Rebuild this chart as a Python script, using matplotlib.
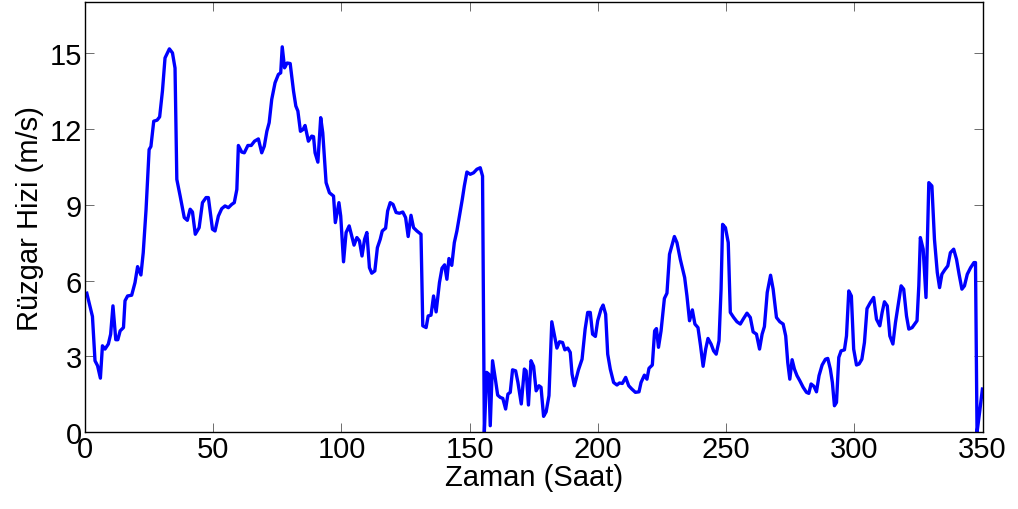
import matplotlib
matplotlib.use("Agg")
import matplotlib.pyplot as plt

# hourly wind speed trace
hours = [
    0.7, 2.9, 3.9, 4.9, 6.0, 6.8, 7.8, 9.1, 10.0, 10.9, 12.0, 12.8, 13.7, 15.0,
    15.6, 16.6, 18.2, 19.5, 20.5, 21.8, 22.7, 23.8, 25.0, 25.7, 26.8, 28.1,
    29.1, 30.2, 31.2, 32.9, 34.1, 35.1, 35.8, 37.1, 38.7, 39.9, 41.0, 41.9,
    43.0, 44.5, 45.8, 47.2, 48.1, 49.7, 50.7, 52.0, 53.3, 54.6, 55.9, 57.2,
    58.2, 59.2, 59.8, 61.1, 62.1, 63.5, 64.8, 66.1, 67.6, 68.9, 69.9, 70.9,
    71.8, 72.8, 74.1, 75.4, 76.3, 76.9, 77.8, 78.8, 80.0, 81.3, 82.2, 83.0,
    84.0, 85.0, 85.8, 87.1, 88.4, 89.1, 89.7, 90.8, 91.9, 92.7, 94.0, 95.3,
    96.9, 97.6, 99.0, 99.7, 100.8, 101.8, 103.0, 104.0, 104.9, 106.0, 107.0,
    108.0, 109.0, 109.9, 110.9, 111.8, 113.0, 114.0, 115.1, 115.9, 117.2,
    118.0, 119.0, 120.1, 121.3, 122.6, 123.9, 125.0, 126.0, 127.1, 128.1,
    129.4, 131.0, 131.7, 133.0, 133.8, 134.9, 135.9, 136.9, 138.2, 139.2,
    140.2, 141.1, 141.9, 143.0, 144.0, 145.0, 146.0, 147.1, 147.9, 148.9,
    150.2, 151.5, 152.8, 154.1, 155.0, 155.7, 156.6, 157.4, 158.0, 158.9,
    160.0, 160.9, 161.9, 162.9, 164.0, 164.9, 165.8, 166.7, 167.9, 168.8,
    170.1, 171.3, 172.0, 172.9, 173.9, 174.9, 175.9, 177.0, 177.8, 178.8,
    179.8, 180.9, 182.0, 183.1, 184.0, 185.0, 186.2, 187.1, 188.2, 189.2,
    189.9, 190.8, 192.4, 193.8, 195.0, 196.0, 197.0, 197.9, 199.0, 199.9,
    201.2, 202.0, 203.0, 203.8, 204.8, 206.1, 207.4, 208.4, 209.5, 210.8,
    212.0, 213.2, 214.6, 216.0, 216.8, 218.1, 219.1, 219.9, 221.2, 222.1,
    222.8, 223.6, 224.6, 225.9, 226.9, 227.9, 229.8, 230.8, 232.1, 233.8,
    234.7, 235.7, 236.8, 237.8, 239.0, 240.0, 241.0, 242.0, 242.9, 244.1,
    245.1, 246.1, 247.2, 248.0, 248.6, 249.7, 250.8, 251.6, 252.9, 254.2,
    255.5, 256.6, 258.1, 259.4, 260.5, 261.8, 263.0, 264.0, 264.9, 266.0,
    267.3, 268.3, 269.6, 270.9, 272.2, 273.2, 274.0, 274.8, 275.7, 276.6,
    277.6, 278.7, 280.0, 281.3, 282.2, 283.1, 284.2, 285.2, 286.2, 287.4,
    288.7, 289.6, 290.6, 291.4, 292.2, 293.0, 293.9, 294.8, 296.1, 296.9,
    297.8, 298.8, 299.7, 300.8, 301.8, 302.9, 303.9, 304.9, 306.2, 307.5,
    308.6, 309.9, 310.8, 311.7, 312.8, 313.8, 315.0, 316.0, 317.2, 318.2,
    319.2, 320.3, 321.2, 322.5, 323.5, 324.4, 325.1, 325.7, 326.8, 327.9,
    329.0, 330.2, 331.2, 332.3, 333.2, 334.1, 335.2, 336.4, 337.4, 338.7,
    339.8, 340.8, 341.9, 342.9, 344.0, 345.3, 346.6, 347.2, 347.8, 348.8,
    349.9,
]
speed = [
    5.50, 4.58, 2.83, 2.63, 2.14, 3.42, 3.29, 3.49, 3.88, 5.00, 3.66, 3.66,
    4.01, 4.14, 5.20, 5.39, 5.42, 5.92, 6.55, 6.22, 7.10, 8.80, 11.18, 11.30,
    12.30, 12.34, 12.47, 13.50, 14.80, 15.16, 15.00, 14.40, 10.00, 9.34, 8.49,
    8.38, 8.82, 8.71, 7.83, 8.09, 9.08, 9.28, 9.28, 8.03, 7.96, 8.55, 8.84,
    8.95, 8.88, 9.01, 9.08, 9.60, 11.34, 11.08, 11.05, 11.34, 11.34, 11.51,
    11.60, 11.05, 11.31, 11.90, 12.24, 13.16, 13.82, 14.15, 14.21, 15.24,
    14.41, 14.60, 14.58, 13.49, 12.90, 12.70, 11.90, 11.97, 12.13, 11.51,
    11.71, 11.69, 11.05, 10.68, 12.44, 11.84, 9.87, 9.47, 9.34, 8.29, 9.08,
    8.55, 6.74, 7.90, 8.16, 7.76, 7.40, 7.70, 7.57, 6.97, 7.63, 7.90, 6.51,
    6.29, 6.38, 7.30, 7.63, 7.96, 8.07, 8.75, 9.08, 9.01, 8.69, 8.66, 8.71,
    8.49, 7.74, 8.58, 8.09, 7.96, 7.83, 4.21, 4.14, 4.60, 4.63, 5.39, 4.76,
    5.92, 6.49, 6.62, 6.05, 6.87, 6.60, 7.50, 7.96, 8.55, 9.21, 9.74, 10.29,
    10.20, 10.26, 10.40, 10.46, 10.13, 0.00, 2.37, 2.30, 0.26, 2.83, 2.10,
    1.47, 1.38, 1.34, 0.92, 1.51, 1.58, 2.47, 2.43, 1.97, 1.12, 2.50, 2.43,
    1.08, 2.83, 2.61, 1.64, 1.84, 1.78, 0.63, 0.81, 1.45, 4.37, 3.81, 3.33,
    3.58, 3.55, 3.26, 3.33, 3.16, 2.30, 1.84, 2.47, 2.89, 4.08, 4.74, 4.74,
    3.88, 3.79, 4.41, 4.87, 5.03, 4.67, 3.09, 2.50, 1.97, 1.87, 1.95, 1.93,
    2.17, 1.84, 1.71, 1.58, 1.60, 1.97, 2.26, 2.10, 2.53, 2.66, 4.01, 4.10,
    3.36, 4.01, 5.29, 5.50, 7.04, 7.74, 7.50, 6.84, 6.12, 5.39, 4.41, 4.84,
    4.28, 4.14, 3.42, 2.61, 3.29, 3.71, 3.49, 3.22, 3.09, 3.62, 5.66, 8.22,
    8.09, 7.50, 4.74, 4.54, 4.37, 4.28, 4.47, 4.71, 4.54, 3.97, 3.88, 3.29,
    3.88, 4.18, 5.53, 6.21, 5.66, 4.54, 4.37, 4.28, 3.81, 2.76, 2.10, 2.87,
    2.50, 2.24, 2.04, 1.78, 1.58, 1.54, 1.91, 1.82, 1.60, 2.24, 2.66, 2.89,
    2.92, 2.50, 1.97, 1.05, 1.18, 2.96, 3.22, 3.26, 3.81, 5.59, 5.39, 3.29,
    2.66, 2.70, 2.89, 3.55, 4.89, 5.13, 5.33, 4.47, 4.21, 4.74, 5.16, 5.00,
    3.81, 3.49, 4.34, 5.13, 5.79, 5.66, 4.60, 4.08, 4.14, 4.28, 4.41, 5.79,
    7.70, 7.24, 5.33, 9.87, 9.74, 7.63, 6.32, 5.72, 6.25, 6.42, 6.58, 7.10,
    7.24, 6.84, 6.25, 5.66, 5.79, 6.25, 6.51, 6.71, 6.71, 0.00, 0.79, 1.71,
]

x_ticks = [0, 50, 100, 150, 200, 250, 300, 350]
y_ticks = [0, 3, 6, 9, 12, 15]

plt.rcParams['font.family'] = ['Liberation Sans', 'DejaVu Sans']

fig = plt.figure(figsize=(10.18, 5.10), dpi=100)
ax = fig.add_axes([0.0835, 0.1504, 0.8818, 0.8431])

ax.plot(hours, speed, color='#0000ff', linewidth=2.4, solid_joinstyle='round')

ax.set_xlim(0, 350)
ax.set_ylim(0, 17)
ax.set_xticks(x_ticks)
ax.set_yticks(y_ticks)
ax.tick_params(direction='in', length=6.5, width=0.6, color='#555555',
               top=True, right=True, labelsize=21, pad=2)
for s in ax.spines.values():
    s.set_linewidth(1.0)
    s.set_color('black')

ax.set_xlabel('Zaman (Saat)', fontsize=21, labelpad=0)
ax.set_ylabel('Rüzgar Hizi (m/s)', fontsize=21, labelpad=4)

fig.savefig('out.png', dpi=100)
